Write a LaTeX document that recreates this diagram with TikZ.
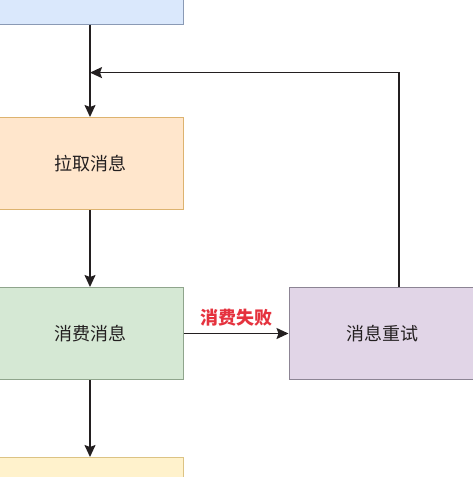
\documentclass[tikz,border=0pt]{standalone}
\usepackage{fontspec}
\setmainfont{Noto Sans CJK SC}
\usepackage{tikz}
\usetikzlibrary{arrows,arrows.meta,positioning,calc,shapes.geometric}
\definecolor{bluefill}{HTML}{DAE8FC}
\definecolor{blueline}{HTML}{8A9AB5}
\definecolor{orangefill}{HTML}{FFE6CC}
\definecolor{orangeline}{HTML}{DDB36F}
\definecolor{greenfill}{HTML}{D5E8D4}
\definecolor{greenline}{HTML}{8FA58C}
\definecolor{purplefill}{HTML}{E1D5E7}
\definecolor{purpleline}{HTML}{8C8494}
\definecolor{yellowfill}{HTML}{FFF2CC}
\definecolor{yellowline}{HTML}{DCC384}
\definecolor{failred}{HTML}{E5323E}
\definecolor{ink}{HTML}{231F20}
\tikzstyle{process} = [rectangle, minimum width=186pt, minimum height=92pt, text centered, line width=1pt, text=ink, font=\fontsize{18}{20}\selectfont]
\tikzstyle{fetch} = [process, fill=bluefill, draw=blueline]
\tikzstyle{pull} = [process, fill=orangefill, draw=orangeline]
\tikzstyle{consume} = [process, fill=greenfill, draw=greenline]
\tikzstyle{retry} = [process, fill=purplefill, draw=purpleline]
\tikzstyle{commit} = [process, fill=yellowfill, draw=yellowline]
\tikzstyle{arrow} = [line width=1.6pt, draw=ink, ->, >={Stealth[length=12pt,width=11pt,inset=2pt]}]

\begin{document}
\begin{tikzpicture}[node distance=170pt]

\useasboundingbox (0,0) rectangle (473pt,-477pt);

\node (fetchmsg) [fetch] at (90pt,22pt) {};
\node (pullmsg) [pull, below of=fetchmsg, node distance=185.5pt] {拉取消息};
\node (consumemsg) [consume, below of=pullmsg] {消费消息};
\node (commitmsg) [commit, below of=consumemsg] {};
\node (retrymsg) [retry, right of=consumemsg, node distance=292pt] {消息重试};

\coordinate (join) at ($(fetchmsg.south)!0.52!(pullmsg.north)$);
\coordinate (back) at ($(retrymsg.north)+(17pt,0)$);

%arrows
\draw [arrow] (fetchmsg) -- (pullmsg);
\draw [arrow] (pullmsg) -- (consumemsg);
\draw [arrow] (consumemsg) -- (commitmsg);
\draw [arrow] (consumemsg) -- node[above=3pt, text=failred, font=\fontsize{18}{20}\selectfont\bfseries] (fail) {消费失败} (retrymsg);
\draw [arrow] (back) |- (join);

\end{tikzpicture}
\end{document}
